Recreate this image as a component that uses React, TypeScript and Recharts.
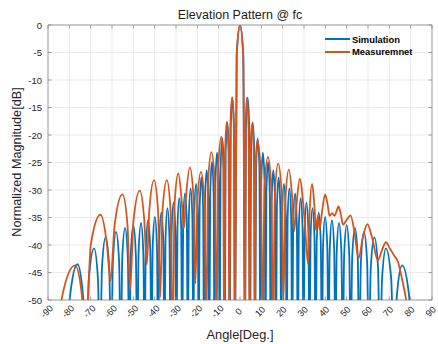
import { LineChart, Line, XAxis, YAxis, CartesianGrid, ReferenceLine } from 'recharts';

// simulated pattern: peaks, shoulders and nulls
const simAngle = [
  -81.5, -79.65, -76.2, -73.6, -72.2, -70.87, -68.4, -66.59, -65.62, -64.7, -63.0, -61.3,
  -60.39, -59.59, -58.1, -56.66, -55.89, -55.19, -53.9, -52.58, -51.87, -51.22, -50.0, -48.81,
  -48.17, -47.55, -46.4, -45.31, -44.73, -44.16, -43.1, -42.05, -41.48, -40.93, -39.9, -38.92,
  -38.39, -37.87, -36.9, -35.94, -35.42, -34.92, -34.0, -33.06, -32.56, -32.07, -31.15, -30.27,
  -29.79, -29.32, -28.45, -27.57, -27.09, -26.64, -25.8, -24.93, -24.46, -24.0, -23.15, -22.32,
  -21.88, -21.43, -20.6, -19.78, -19.34, -18.91, -18.1, -17.29, -16.85, -16.41, -15.6, -14.81,
  -14.38, -13.95, -13.15, -12.37, -11.95, -11.53, -10.75, -9.96, -9.53, -9.1, -8.3, -7.54,
  -7.13, -6.72, -5.95, -5.17, -4.75, -4.35, -3.6, -2.8, -2.37, -1.54, 0,
  1.54, 2.37, 2.8, 3.6, 4.35, 4.75, 5.17, 5.95, 6.72, 7.13, 7.54, 8.3, 9.1,
  9.53, 9.96, 10.75, 11.53, 11.95, 12.37, 13.15, 13.95, 14.38, 14.81, 15.6, 16.41,
  16.85, 17.29, 18.1, 18.91, 19.34, 19.78, 20.6, 21.43, 21.88, 22.32, 23.15, 24.0,
  24.46, 24.93, 25.8, 26.64, 27.09, 27.57, 28.45, 29.32, 29.79, 30.27, 31.15, 32.07,
  32.56, 33.06, 34.0, 34.92, 35.42, 35.94, 36.9, 37.87, 38.39, 38.92, 39.9, 40.93,
  41.48, 42.05, 43.1, 44.16, 44.73, 45.31, 46.4, 47.55, 48.17, 48.81, 50.0, 51.22,
  51.87, 52.58, 53.9, 55.19, 55.89, 56.66, 58.1, 59.59, 60.39, 61.3, 63.0, 64.7,
  65.62, 66.59, 68.4, 70.87, 72.2, 73.53, 76.0, 79.25, 81.0,
];
const simDb = [
  -62, -49.2, -43.5, -49.2, -62, -46.1, -40.6, -46.1, -62, -44.1, -38.6, -44.1,
  -62, -43.1, -37.6, -43.1, -62, -42.4, -36.9, -42.4, -62, -41.9, -36.4, -41.9,
  -62, -41.5, -36.0, -41.5, -62, -41.0, -35.5, -41.0, -62, -40.4, -34.9, -40.4,
  -62, -39.6, -34.1, -39.6, -62, -38.8, -33.3, -38.8, -62, -37.8, -32.3, -37.8,
  -62, -37.0, -31.5, -37.0, -62, -36.1, -30.6, -36.1, -62, -35.2, -29.7, -35.2,
  -62, -34.4, -28.9, -34.4, -62, -33.2, -27.7, -33.2, -62, -31.9, -26.4, -31.9,
  -62, -30.4, -24.9, -30.4, -62, -28.7, -23.2, -28.7, -62, -26.1, -20.6, -26.1,
  -62, -23.2, -17.7, -23.2, -62, -18.7, -13.2, -18.7, -62, -5.5, 0,
  -5.5, -62, -18.7, -13.2, -18.7, -62, -23.2, -17.7, -23.2, -62, -26.1, -20.6, -26.1,
  -62, -28.7, -23.2, -28.7, -62, -30.4, -24.9, -30.4, -62, -31.9, -26.4, -31.9,
  -62, -33.2, -27.7, -33.2, -62, -34.4, -28.9, -34.4, -62, -35.2, -29.7, -35.2,
  -62, -36.1, -30.6, -36.1, -62, -37.0, -31.5, -37.0, -62, -37.8, -32.3, -37.8,
  -62, -38.8, -33.3, -38.8, -62, -39.6, -34.1, -39.6, -62, -40.4, -34.9, -40.4,
  -62, -41.0, -35.5, -41.0, -62, -41.5, -36.0, -41.5, -62, -41.9, -36.4, -41.9,
  -62, -42.4, -36.9, -42.4, -62, -43.1, -37.6, -43.1, -62, -44.1, -38.6, -44.1,
  -62, -46.1, -40.6, -46.1, -62, -49.2, -43.7, -49.2, -62,
];

// measured pattern
const measAngle = [
  -86.5, -83.28, -77.3, -74.1, -72.4, -69.95, -65.4, -62.35, -60.7, -58.74, -55.1, -52.76,
  -51.5, -49.93, -47.0, -44.86, -43.7, -42.51, -40.3, -38.42, -37.4, -36.32, -34.3, -32.55,
  -31.6, -30.66, -28.9, -27.21, -26.3, -25.32, -23.5, -21.81, -20.9, -19.99, -18.3, -16.68,
  -15.8, -14.96, -13.4, -11.84, -11.0, -10.2, -8.7, -7.86, -7.4, -6.98, -6.2, -5.39,
  -4.95, -4.51, -3.7, -2.86, -2.4, -1.56, 0, 1.5, 2.3, 2.62, 3.2, 4.01,
  4.45, 4.89, 5.7, 6.48, 6.9, 7.32, 8.1, 9.73, 10.6, 11.48, 13.1, 14.66,
  15.5, 16.34, 17.9, 19.53, 20.4, 21.28, 22.9, 24.53, 25.4, 26.31, 28.0, 30.2,
  31.9, 32.57, 33.8, 34.9, 35.7, 36.5, 37.3, 38.6, 39.9, 41.0, 42.0, 43.2,
  44.3, 45.3, 46.2, 47.2, 48.3, 50.2, 51.8, 53.6, 55.6, 57.6, 59.7, 61.9,
  64.6, 66.5, 68.4, 70.2, 72.4, 74.0, 76.0, 77.9, 79.5,
];
const measDb = [
  -62, -49.2, -43.7, -49.2, -58, -40.0, -34.5, -40.0, -46.5, -36.3, -30.8, -36.3,
  -48, -35.6, -30.1, -35.6, -43.6, -33.7, -28.2, -33.7, -49.5, -33.7, -28.2, -33.7,
  -60, -32.5, -27.0, -32.5, -37, -31.4, -25.9, -31.4, -47, -32.2, -26.7, -32.2,
  -56, -28.6, -23.1, -28.6, -56, -25.8, -20.3, -25.8, -62, -23.1, -17.6, -23.1,
  -62, -18.6, -13.1, -18.6, -62, -5.5, 0, -5.5, -62, -18.7, -13.2, -18.7,
  -62, -23.4, -17.9, -23.4, -62, -26.5, -21.0, -26.5, -56, -29.5, -24.0, -29.5,
  -56, -30.7, -25.2, -30.7, -50, -31.8, -26.3, -31.8, -37.5, -33.5, -28.0, -35,
  -43.5, -34.4, -28.9, -33, -37.4, -34.7, -37.1, -33.5, -30.8, -32.5, -34.7, -34.2,
  -34.7, -33.8, -33.0, -34.3, -36.3, -35.3, -34.6, -37.5, -42.4, -38.6, -36.2, -38.6,
  -42.8, -41.0, -39.5, -40.6, -42.0, -43.0, -46.3, -50, -55,
];

const xTicks = [-90, -80, -70, -60, -50, -40, -30, -20, -10, 0, 10, 20, 30, 40, 50, 60, 70, 80, 90];
const yTicks = [-50, -45, -40, -35, -30, -25, -20, -15, -10, -5, 0];
const seriesNames = ['Simulation', 'Measuremnet'];

const simData = simAngle.map((a, i) => ({ angle: a, db: simDb[i] }));
const measData = measAngle.map((a, i) => ({ angle: a, db: measDb[i] }));

const W = 438;
const H = 344;
const PLOT = { left: 48, top: 25, right: 432, bottom: 300 };
const FONT = '"Liberation Sans", Arial, Helvetica, sans-serif';
const AXIS = '#8c8c8c';
const TEXT = '#262626';
const BLUE = '#0072BD';
const ORANGE = '#D95319';

function XTick({ x, payload }: any) {
  const tx = x - 1.2;
  const ty = 311.5;
  return (
    <g>
      <line x1={x} x2={x} y1={PLOT.bottom} y2={PLOT.bottom - 3.5} stroke={AXIS} strokeWidth={0.8} />
      <line x1={x} x2={x} y1={PLOT.top} y2={PLOT.top + 3.5} stroke={AXIS} strokeWidth={0.8} />
      <text
        x={tx}
        y={ty}
        transform={`rotate(-45 ${tx} ${ty})`}
        textAnchor="middle"
        dominantBaseline="central"
        fontSize={9.2}
        fontFamily={FONT}
        fill={TEXT}
      >
        {String(payload.value)}
      </text>
    </g>
  );
}

function YTick({ y, payload }: any) {
  return (
    <g>
      <line x1={PLOT.left} x2={PLOT.left + 3.5} y1={y} y2={y} stroke={AXIS} strokeWidth={0.8} />
      <line x1={PLOT.right} x2={PLOT.right - 3.5} y1={y} y2={y} stroke={AXIS} strokeWidth={0.8} />
      <text x={PLOT.left - 6} y={y} textAnchor="end" dominantBaseline="central" fontSize={9.5} fontFamily={FONT} fill={TEXT}>
        {String(payload.value)}
      </text>
    </g>
  );
}

export default function App() {
  const colors = [BLUE, ORANGE];
  return (
    <div style={{ position: 'absolute', left: 0, top: 0, width: W, height: H, background: '#fff', fontFamily: FONT }}>
      <div style={{ position: 'absolute', left: 0, top: 8, width: 480, textAlign: 'center', fontSize: 12.5, color: '#1a1a1a' }}>
        Elevation Pattern @ fc
      </div>
      <LineChart width={W} height={H} margin={{ top: PLOT.top, left: 0, right: W - PLOT.right, bottom: 0 }}>
        <CartesianGrid stroke="#e6e6e6" strokeWidth={0.8} />
        <XAxis
          dataKey="angle"
          type="number"
          domain={[-90, 90]}
          ticks={xTicks}
          interval={0}
          height={H - PLOT.bottom}
          axisLine={false}
          tickLine={false}
          tick={<XTick />}
          allowDuplicatedCategory={false}
        />
        <YAxis
          type="number"
          domain={[-50, 0]}
          ticks={yTicks}
          interval={0}
          width={PLOT.left}
          axisLine={false}
          tickLine={false}
          tick={<YTick />}
          allowDataOverflow
        />
        <ReferenceLine x={-90} stroke={AXIS} strokeWidth={0.8} />
        <ReferenceLine x={90} stroke={AXIS} strokeWidth={0.8} />
        <ReferenceLine y={0} stroke={AXIS} strokeWidth={0.8} />
        <ReferenceLine y={-50} stroke={AXIS} strokeWidth={0.8} />
        <Line
          data={simData}
          dataKey="db"
          name={seriesNames[0]}
          type="monotone"
          stroke={BLUE}
          strokeWidth={1.8}
          dot={false}
          activeDot={false}
          isAnimationActive={false}
        />
        <Line
          data={measData}
          dataKey="db"
          name={seriesNames[1]}
          type="monotone"
          stroke={ORANGE}
          strokeWidth={1.8}
          dot={false}
          activeDot={false}
          isAnimationActive={false}
        />
      </LineChart>
      <div style={{ position: 'absolute', left: 325, top: 33, fontSize: 9.4, fontWeight: 700, color: '#000' }}>
        {seriesNames.map((n, i) => (
          <div key={n} style={{ display: 'flex', alignItems: 'center', height: 12.6 }}>
            <span style={{ display: 'inline-block', width: 25, height: 2, background: colors[i], marginRight: 2 }} />
            <span>{n}</span>
          </div>
        ))}
      </div>
      <div style={{ position: 'absolute', left: 140, top: 327, width: 200, textAlign: 'center', fontSize: 12.8, color: TEXT }}>
        Angle[Deg.]
      </div>
      <div
        style={{
          position: 'absolute',
          left: 17 - 100,
          top: 162 - 8,
          width: 200,
          height: 16,
          lineHeight: '16px',
          textAlign: 'center',
          fontSize: 12.7,
          color: TEXT,
          transform: 'rotate(-90deg)',
        }}
      >
        Normalized Magnitude[dB]
      </div>
    </div>
  );
}
